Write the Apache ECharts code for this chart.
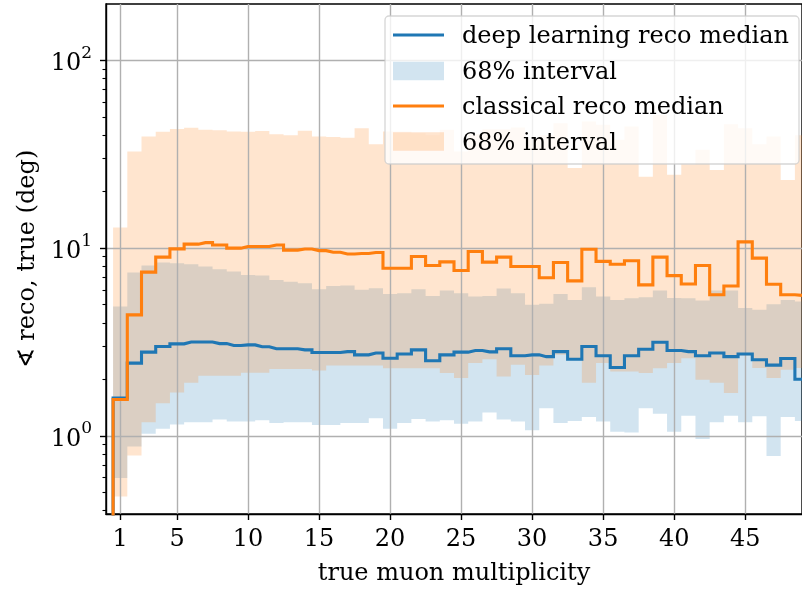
<!DOCTYPE html>
<html>
<head>
<meta charset="utf-8">
<script src="https://cdn.jsdelivr.net/npm/echarts@6/dist/echarts.min.js"></script>
<style>
  html, body { margin: 0; padding: 0; background: #ffffff; }
  #chart { width: 802px; height: 594px; }
</style>
</head>
<body>
<div id="chart"></div>
<script>
// True muon multiplicity bins (bin 0 only anchors the first step of the median lines)
var multiplicity = [0, 1, 2, 3, 4, 5, 6, 7, 8, 9, 10, 11, 12, 13, 14, 15, 16, 17, 18, 19, 20,
  21, 22, 23, 24, 25, 26, 27, 28, 29, 30, 31, 32, 33, 34, 35, 36, 37, 38, 39, 40,
  41, 42, 43, 44, 45, 46, 47, 48, 49];

// Deep learning reconstruction: median and 68% interval of the opening angle (deg)
var dlMedian = [0.3, 1.59, 2.44, 2.79, 2.99, 3.09, 3.16, 3.16, 3.10, 3.03, 3.05,
  2.98, 2.91, 2.91, 2.87, 2.78, 2.78, 2.81, 2.70, 2.76, 2.59,
  2.73, 2.87, 2.51, 2.70, 2.79, 2.85, 2.80, 2.91, 2.67, 2.70,
  2.64, 2.81, 2.56, 2.99, 2.67, 2.31, 2.67, 2.89, 3.15, 2.85,
  2.81, 2.67, 2.76, 2.64, 2.73, 2.54, 2.38, 2.58, 2.00];
var dlLow = [null, 0.595, 0.877, 1.025, 1.09, 1.15, 1.18, 1.18, 1.22, 1.19, 1.19,
  1.21, 1.17, 1.18, 1.18, 1.14, 1.14, 1.17, 1.17, 1.24, 1.09,
  1.17, 1.23, 1.19, 1.21, 1.16, 1.19, 1.33, 1.22, 1.19, 1.07,
  1.40, 1.17, 1.20, 1.26, 1.19, 1.05, 1.04, 1.40, 1.31, 1.05,
  1.28, 0.96, 1.18, 1.28, 1.18, 1.27, 0.78, 1.26, 1.20];
var dlHigh = [null, 4.89, 7.42, 8.08, 8.38, 8.30, 8.20, 7.98, 7.72, 7.50, 7.20,
  7.15, 6.77, 6.63, 6.50, 6.04, 6.28, 6.32, 6.00, 6.12, 5.69,
  5.75, 6.04, 5.56, 5.95, 5.75, 5.52, 5.56, 6.09, 5.75, 4.99,
  5.05, 5.69, 5.30, 6.18, 5.52, 5.30, 5.41, 5.47, 5.95, 5.43,
  5.41, 5.26, 5.95, 5.95, 4.79, 4.69, 5.03, 5.30, 5.20];

// Classical reconstruction: median and 68% interval (deg)
var clMedian = [0.3, 1.56, 4.41, 7.45, 8.96, 9.91, 10.5, 10.7, 10.4, 10.0, 10.2,
  10.2, 10.4, 9.76, 9.90, 9.70, 9.50, 9.30, 9.36, 9.48, 7.82,
  7.82, 9.02, 8.08, 8.45, 7.60, 9.60, 8.42, 8.96, 7.98, 7.98,
  6.95, 8.38, 6.69, 9.86, 8.50, 8.20, 8.56, 6.37, 8.96, 7.14,
  6.44, 8.08, 5.64, 6.28, 10.8, 8.85, 6.42, 5.64, 5.60];
var clLow = [null, 0.475, 0.785, 1.18, 1.49, 1.70, 1.92, 2.09, 2.09, 2.09, 2.17,
  2.17, 2.27, 2.27, 2.27, 2.23, 2.37, 2.37, 2.37, 2.37, 2.29,
  2.29, 2.29, 2.29, 2.16, 2.03, 2.44, 2.56, 2.07, 2.39, 2.11,
  2.37, 2.70, 2.55, 1.92, 2.44, 2.20, 2.20, 2.16, 2.29, 2.44,
  2.59, 1.99, 1.92, 1.69, 2.68, 2.30, 2.03, 2.25, 2.30];
var clHigh = [null, 12.9, 32.7, 39.3, 41.7, 43.2, 43.8, 42.7, 42.5, 41.9, 41.7,
  42.1, 40.5, 40.0, 42.2, 39.3, 39.1, 38.7, 43.6, 35.8, 41.8,
  41.8, 41.0, 40.0, 42.7, 32.7, 40.5, 43.0, 43.0, 44.0, 38.0,
  40.0, 46.3, 26.7, 47.3, 45.4, 37.8, 44.5, 24.0, 51.2, 24.6,
  28.0, 33.4, 26.1, 45.8, 43.6, 35.8, 39.3, 23.1, 40.0];

// Axis ticks
var xTicks = [1, 5, 10, 15, 20, 25, 30, 35, 40, 45];
var yMajorTicks = [1, 10, 100];
var yMinorTicks = [0.4, 0.5, 0.6, 0.7, 0.8, 0.9, 2, 3, 4, 5, 6, 7, 8, 9,
  20, 30, 40, 50, 60, 70, 80, 90];

var FONT = "'DejaVu Serif', 'Liberation Serif', serif";
var FS = 24;
var BLUE = '#1f77b4';
var ORANGE = '#ff7f0e';
var BLUE_FILL = 'rgba(31,119,180,0.2)';
var ORANGE_FILL = 'rgba(255,127,14,0.2)';
var LINE_W = 3.1;

// Step-shaped band covering each bin [k-0.5, k+0.5] between low and high
function bandSeries(low, high, fill) {
  return {
    type: 'custom',
    coordinateSystem: 'cartesian2d',
    silent: true,
    clip: true,
    z: 1,
    data: [[1, 1]],
    renderItem: function (params, api) {
      var upper = [], lower = [];
      for (var i = 0; i < multiplicity.length; i++) {
        if (low[i] == null || high[i] == null) continue;
        var k = multiplicity[i];
        upper.push(api.coord([k - 0.5, high[i]]));
        upper.push(api.coord([k + 0.5, high[i]]));
        lower.push(api.coord([k - 0.5, low[i]]));
        lower.push(api.coord([k + 0.5, low[i]]));
      }
      lower.reverse();
      return {
        type: 'polygon',
        shape: { points: upper.concat(lower) },
        style: { fill: fill, stroke: null }
      };
    }
  };
}

function medianSeries(values, color) {
  return {
    type: 'line',
    step: 'middle',
    silent: true,
    clip: true,
    z: 5,
    showSymbol: false,
    symbol: 'none',
    data: multiplicity.map(function (k, i) { return [k, values[i]]; }),
    lineStyle: { color: color, width: LINE_W, join: 'miter' }
  };
}

var chart = echarts.init(document.getElementById('chart'), null, { renderer: 'canvas' });

var legendRows = [
  { y: 35, text: 'deep learning reco median', kind: 'line', color: BLUE },
  { y: 71, text: '68% interval', kind: 'patch', color: BLUE_FILL },
  { y: 106, text: 'classical reco median', kind: 'line', color: ORANGE },
  { y: 141.5, text: '68% interval', kind: 'patch', color: ORANGE_FILL }
];
var legendChildren = [{
  type: 'rect',
  z: 100,
  shape: { x: 385, y: 16, width: 414, height: 148, r: 4 },
  style: { fill: 'rgba(255,255,255,0.8)', stroke: 'rgba(204,204,204,0.8)', lineWidth: 1.3 }
}];
legendRows.forEach(function (row) {
  if (row.kind === 'line') {
    legendChildren.push({
      type: 'line',
      z: 101,
      shape: { x1: 393, y1: row.y, x2: 444, y2: row.y },
      style: { stroke: row.color, lineWidth: LINE_W }
    });
  } else {
    legendChildren.push({
      type: 'rect',
      z: 101,
      shape: { x: 393, y: row.y - 9.3, width: 51, height: 18.6 },
      style: { fill: row.color }
    });
  }
  legendChildren.push({
    type: 'text',
    z: 101,
    x: 462, y: row.y + 2,
    style: {
      text: row.text, font: FS + 'px ' + FONT, fill: '#000',
      verticalAlign: 'middle', align: 'left'
    }
  });
});

var option = {
  animation: false,
  backgroundColor: '#ffffff',
  grid: {
    left: 106, top: 4, width: 703, height: 510,
    show: true, borderColor: '#000', borderWidth: 1.4, backgroundColor: 'transparent'
  },
  xAxis: {
    type: 'value',
    min: 0, max: 49,
    z: 3,
    name: 'true muon multiplicity',
    nameLocation: 'middle',
    nameGap: 48,
    nameTextStyle: { fontFamily: FONT, fontSize: FS, color: '#000' },
    axisLine: { show: true, onZero: false, lineStyle: { color: '#000', width: 1.4 } },
    axisTick: { show: true, length: 6, customValues: xTicks, lineStyle: { color: '#000', width: 1.4 } },
    axisLabel: { customValues: xTicks, margin: 14, fontFamily: FONT, fontSize: FS, color: '#000' },
    splitLine: { show: true, lineStyle: { color: '#b0b0b0', width: 1.4 } }
  },
  yAxis: [{
    type: 'log',
    logBase: 10,
    min: 0.383, max: 200,
    z: 3,
    name: '\u2222 reco, true (deg)',
    nameLocation: 'middle',
    nameGap: 64,
    nameTextStyle: { fontFamily: FONT, fontSize: FS, color: '#000' },
    axisLine: { show: true, lineStyle: { color: '#000', width: 1.4 } },
    axisTick: { show: true, length: 6, customValues: yMajorTicks, lineStyle: { color: '#000', width: 1.4 } },
    axisLabel: {
      customValues: yMajorTicks,
      margin: 14,
      formatter: function (v) {
        return '{b|10}{s|' + Math.round(Math.log10(v)) + '}';
      },
      rich: {
        b: { fontFamily: FONT, fontSize: FS, color: '#000', lineHeight: 31, verticalAlign: 'bottom' },
        s: { fontFamily: FONT, fontSize: 17, color: '#000', lineHeight: 17, verticalAlign: 'top' }
      }
    },
    splitLine: { show: true, lineStyle: { color: '#b0b0b0', width: 1.4 } }
  }, {
    type: 'log',
    logBase: 10,
    min: 0.383, max: 200,
    position: 'left',
    z: 3,
    axisLine: { show: false },
    axisTick: { show: true, length: 3.5, customValues: yMinorTicks, lineStyle: { color: '#000', width: 1.1 } },
    axisLabel: { show: false },
    splitLine: { show: false }
  }],
  series: [
    bandSeries(dlLow, dlHigh, BLUE_FILL),
    bandSeries(clLow, clHigh, ORANGE_FILL),
    medianSeries(dlMedian, BLUE),
    medianSeries(clMedian, ORANGE)
  ],
  graphic: [{ type: 'group', z: 100, silent: true, children: legendChildren }]
};

chart.setOption(option);
</script>
</body>
</html>
